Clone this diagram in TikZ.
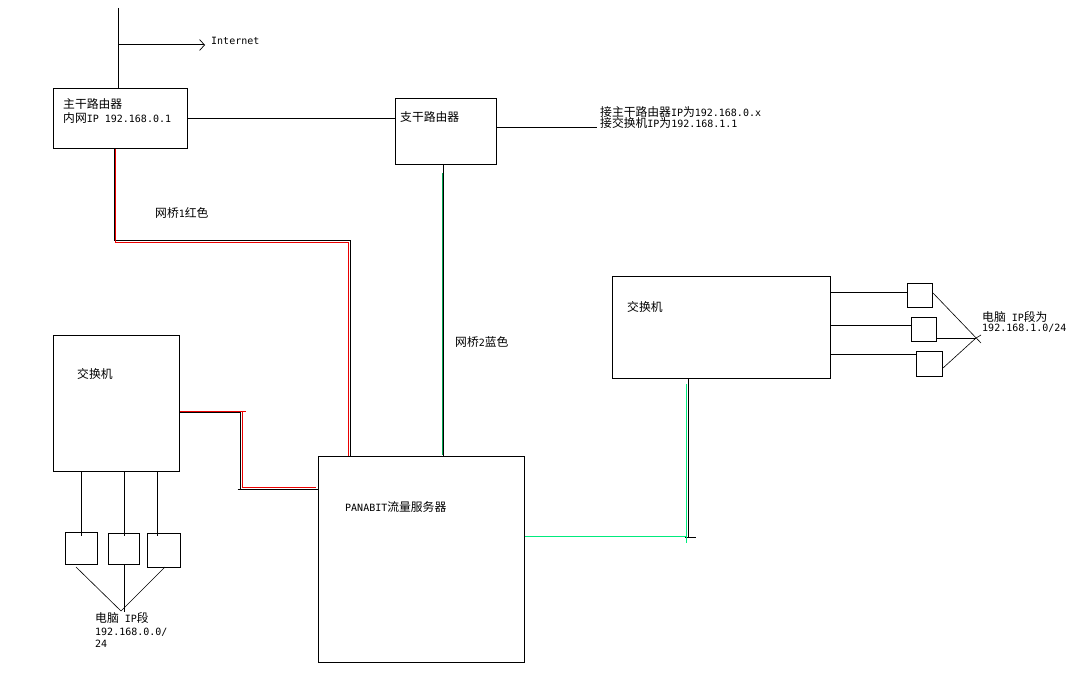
\documentclass[tikz,border=0pt]{standalone}
\usepackage{fontspec}
\setmainfont{DejaVu Sans Mono}
\newfontfamily\cjk{Noto Sans CJK SC}
\usetikzlibrary{arrows.meta}
\definecolor{bridgeRed}{RGB}{235,0,0}
\definecolor{bridgeGreen}{RGB}{0,165,80}
\definecolor{linkGreen}{RGB}{0,235,125}
\newcommand\zh[1]{{\cjk\fontsize{11.8}{11}\selectfont #1}}
\tikzset{
    netBox/.style={
        draw,
        line width=1pt,
        anchor=north west,
        inner sep=0pt
    },
    netText/.style={
        anchor=west,
        inner sep=0pt,
        font=\fontsize{10}{11}\selectfont
    },
    netLine/.style={
        line width=1pt
    },
    pcLine/.style={
        line width=0.6pt
    }
}

\begin{document}
\begin{tikzpicture}[x=1pt,y=-1pt]
        \fill[white] (0,0) rectangle (1078,679);
        \useasboundingbox (0,0) rectangle (1078,679);

        % boxes
        \node[netBox,minimum width=134pt,minimum height=60pt] (mainr) at (53,88) {};
        \node[netBox,minimum width=101pt,minimum height=66pt] (branchr) at (395,98) {};
        \node[netBox,minimum width=126pt,minimum height=136pt] (lsw) at (53,335) {};
        \node[netBox,minimum width=206pt,minimum height=206pt] (panabit) at (318,456) {};
        \node[netBox,minimum width=218pt,minimum height=102pt] (rsw) at (612,276) {};
        \node[netBox,minimum width=32pt,minimum height=32pt] (lpcA) at (65,532) {};
        \node[netBox,minimum width=31pt,minimum height=31pt] (lpcB) at (108,533) {};
        \node[netBox,minimum width=33pt,minimum height=34pt] (lpcC) at (147,533) {};
        \node[netBox,minimum width=25pt,minimum height=24pt] (rpcA) at (907,283) {};
        \node[netBox,minimum width=25pt,minimum height=24pt] (rpcB) at (911,317) {};
        \node[netBox,minimum width=26pt,minimum height=25pt] (rpcC) at (916,351) {};

        % texts
        \node[netText] (inet) at (211,41) {Internet};
        \node[netText] (mainrName) at (63,104) {\zh{主干路由器}};
        \node[netText] (mainrIp) at (63,118) {\zh{内网}IP 192.168.0.1};
        \node[netText] (branchrName) at (400,117) {\zh{支干路由器}};
        \node[netText] (branchrUp) at (600,112) {\zh{接主干路由器}IP\zh{为}192.168.0.x};
        \node[netText] (branchrDown) at (600,123) {\zh{接交换机}IP\zh{为}192.168.1.1};
        \node[netText] (bridgeA) at (155,213) {\zh{网桥}1\zh{红色}};
        \node[netText] (bridgeB) at (455,342) {\zh{网桥}2\zh{蓝色}};
        \node[netText] (lswName) at (77,374) {\zh{交换机}};
        \node[netText] (rswName) at (627,307) {\zh{交换机}};
        \node[netText] (panabitName) at (345,507) {PANABIT\zh{流量服务器}};
        \node[netText] (lpcName) at (95,618) {\zh{电脑} IP\zh{段}};
        \node[netText] (lpcNet) at (95,632) {192.168.0.0/};
        \node[netText] (lpcMask) at (95,644) {24};
        \node[netText] (rpcName) at (982,317) {\zh{电脑} IP\zh{段为}};
        \node[netText] (rpcNet) at (982,328) {192.168.1.0/24};

        % uplink
        \coordinate (uplink) at (118,8);
        \coordinate (inetJoin) at (118,45);
        \coordinate (inetEnd) at (205,45);
        \draw[netLine] (uplink) -- (uplink |- mainr.north);
        \draw[netLine,-{Straight Barb[length=5pt,width=11pt,line width=0.7pt]}] (inetJoin) -- (inetEnd);

        % routers
        \coordinate (branchrEnd) at (597,128);
        \draw[netLine] (mainr.east) -- (mainr.east -| branchr.west);
        \draw[netLine] (branchr.east |- branchrEnd) -- (branchrEnd);

        % bridge 1 (red)
        \coordinate (redA) at (114,240);
        \coordinate (redB) at (350,240);
        \coordinate (redC) at (115.8,242);
        \coordinate (redD) at (348,242);
        \draw[netLine] (mainr.south -| redA) -- (redA) -- (redB) -- (redB |- panabit.north);
        \draw[netLine,bridgeRed] (mainr.south -| redC) -- (redC) -- (redD) -- (redD |- panabit.north);

        \coordinate (redE) at (240,412.6);
        \coordinate (redF) at (240,489.5);
        \coordinate (redG) at (246,411.2);
        \coordinate (redH) at (242.2,411.2);
        \coordinate (redI) at (242.2,487.3);
        \draw[netLine] (lsw.east |- redE) -- (redE) -- (redF) -- (redF -| panabit.west);
        \draw[netLine] ([xshift=-2.5pt]redF) -- (redF);
        \draw[netLine,bridgeRed] (lsw.east |- redG) -- (redG);
        \draw[netLine,bridgeRed] (redH) -- (redI) -- ([xshift=-2pt]redI -| panabit.west);

        % bridge 2 (green)
        \coordinate (greenA) at (443.3,300);
        \coordinate (greenB) at (442,300);
        \draw[netLine] (branchr.south -| greenA) -- (panabit.north -| greenA);
        \draw[netLine,bridgeGreen] ([yshift=-8pt]branchr.south -| greenB) -- ([yshift=1pt]panabit.north -| greenB);

        % panabit to right switch
        \coordinate (link) at (688,537);
        \coordinate (linkG) at (686.8,536.5);
        \draw[netLine] (rsw.south -| link) -- ([yshift=-1pt]link);
        \draw[netLine] ([xshift=-3pt]link) -- ([xshift=8pt]link);
        \draw[netLine,linkGreen] ([yshift=-5pt]rsw.south -| linkG) -- ([yshift=-6pt]linkG);
        \draw[netLine,linkGreen] (panabit.east |- linkG) -- (linkG);

        % left switch to pcs
        \foreach \px/\pc in {81/lpcA,124/lpcB,157/lpcC}
            \draw[netLine] (lsw.south -| \px,0) -- (\px,536);
        \coordinate (lpcJoin) at (121,611);
        \draw[pcLine] (76,567) -- (lpcJoin);
        \draw[pcLine] (lpcB.south -| 124,0) -- (124,612);
        \draw[pcLine] (165,567) -- (lpcJoin);

        % right switch to pcs
        \foreach \py/\pc in {292/rpcA,325/rpcB,354/rpcC}
            \draw[netLine] (rsw.east |- 0,\py) -- (\pc.west |- 0,\py);
        \coordinate (rpcJoin) at (976,338);
        \draw[pcLine] (rpcA.east |- 0,293) -- (981,343);
        \draw[pcLine] (rpcB.east |- 0,338) -- (rpcJoin);
        \draw[pcLine] (rpcC.east |- 0,368) -- (rpcJoin) -- (981,335);
    \end{tikzpicture}
\end{document}
